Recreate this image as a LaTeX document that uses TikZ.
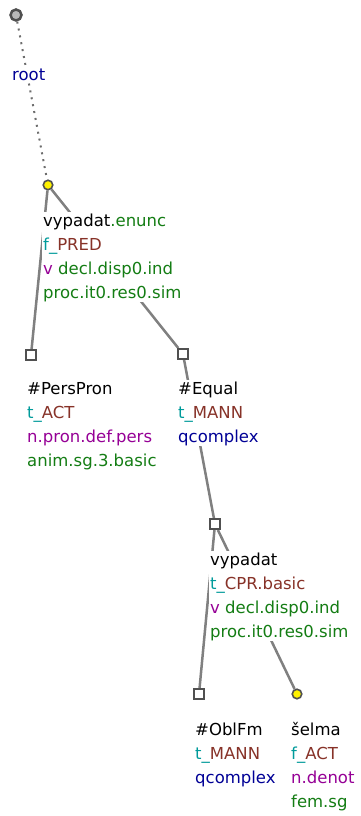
\documentclass[tikz,border=0pt]{standalone}
\usepackage{fontspec}
\setmainfont{DejaVu Sans}
\usetikzlibrary{backgrounds}
\definecolor{funccol}{RGB}{0,155,155}
\definecolor{fncol}{RGB}{135,50,40}
\definecolor{poscol}{RGB}{150,0,150}
\definecolor{gramcol}{RGB}{20,125,20}
\definecolor{rootcol}{RGB}{0,0,150}
\definecolor{edgegray}{RGB}{128,128,128}
\definecolor{framegray}{RGB}{80,80,80}

\begin{document}
\begin{tikzpicture}[x=1pt,y=-1pt,
  every node/.style={font=\fontsize{16.5}{24}\selectfont},
  tnode/.style={draw=framegray, fill=white, line width=2pt, minimum size=10pt, inner sep=0pt},
  ynode/.style={circle, draw=framegray, fill=yellow, line width=1.6pt, minimum size=9.5pt, inner sep=0pt},
  rnode/.style={circle, draw=framegray, fill=gray!55, line width=2.5pt, minimum size=11pt, inner sep=0pt},
  info/.style={anchor=base west, align=left, inner sep=1pt, fill=white},
  edge/.style={draw=edgegray, line width=2.5pt},
  rootedge/.style={draw=edgegray!85!black, line width=2pt, dash pattern=on 2pt off 5pt}]
  \useasboundingbox (0,0) rectangle (361,816);
  % labels (placed at the baseline of their last line)
  \node[info, text=rootcol] (rootlbl) at (11,80) {root};
  \node[info] (vypadatlbl) at (42,298) {vypadat\textcolor{gramcol}{.enunc}\\
    \textcolor{funccol}{f\_}\textcolor{fncol}{PRED}\\
    \textcolor{poscol}{v} \textcolor{gramcol}{decl.disp0.ind}\\
    \textcolor{gramcol}{proc.it0.res0.sim}};
  \node[info] (perspronlbl) at (26,466) {\#PersPron\\
    \textcolor{funccol}{t\_}\textcolor{fncol}{ACT}\\
    \textcolor{poscol}{n.pron.def.pers}\\
    \textcolor{gramcol}{anim.sg.3.basic}};
  \node[info] (equallbl) at (177,442) {\#Equal\\
    \textcolor{funccol}{t\_}\textcolor{fncol}{MANN}\\
    \textcolor{rootcol}{qcomplex}};
  \node[info] (cprlbl) at (209,637) {vypadat\\
    \textcolor{funccol}{t\_}\textcolor{fncol}{CPR.basic}\\
    \textcolor{poscol}{v} \textcolor{gramcol}{decl.disp0.ind}\\
    \textcolor{gramcol}{proc.it0.res0.sim}};
  \node[info] (oblfmlbl) at (194,783) {\#OblFm\\
    \textcolor{funccol}{t\_}\textcolor{fncol}{MANN}\\
    \textcolor{rootcol}{qcomplex}};
  \node[info] (selmalbl) at (290,807) {šelma\\
    \textcolor{funccol}{f\_}\textcolor{fncol}{ACT}\\
    \textcolor{poscol}{n.denot}\\
    \textcolor{gramcol}{fem.sg}};
  % tree nodes
  \node[rnode] (root) at (16,15) {};
  \node[ynode] (vypadat) at (48,185) {};
  \node[tnode] (perspron) at (31,355) {};
  \node[tnode] (equal) at (183,354) {};
  \node[tnode] (cpr) at (215,524) {};
  \node[tnode] (oblfm) at (199,694) {};
  \node[ynode] (selma) at (297,694) {};
  % edges
  \begin{pgfonlayer}{background}
    \draw[rootedge] (root) -- (vypadat);
    \draw[edge] (vypadat) -- (perspron);
    \draw[edge] (vypadat) -- (equal);
    \draw[edge] (equal) -- (cpr);
    \draw[edge] (cpr) -- (oblfm);
    \draw[edge] (cpr) -- (selma);
  \end{pgfonlayer}
\end{tikzpicture}
\end{document}
